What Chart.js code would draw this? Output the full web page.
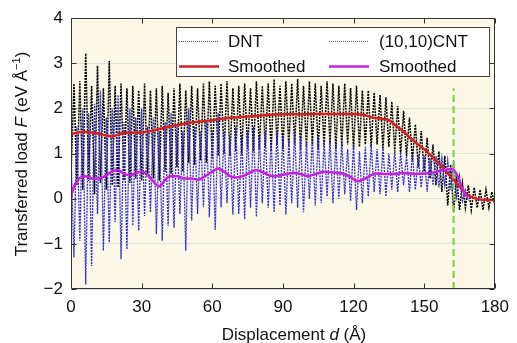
<!DOCTYPE html>
<html>
<head>
<meta charset="utf-8">
<script src="https://cdn.jsdelivr.net/npm/chart.js@4.4.1/dist/chart.umd.min.js"></script>
<style>
html,body{margin:0;padding:0;background:#ffffff;}
#wrap{width:517px;height:343px;position:relative;}
canvas{display:block;}
</style>
</head>
<body>
<div id="wrap"><canvas id="c" width="517" height="343"></canvas></div>
<script>
// ---- data ----
const seriesNames = ["DNT", "Smoothed", "(10,10)CNT", "Smoothed"];
const xTicks = [0, 30, 60, 90, 120, 150, 180];
const yTicks = [-2, -1, 0, 1, 2, 3, 4];

const dntX = [0,1.25,2.5,3.75,5,6.25,7.5,8.75,10,11.25,12.5,13.75,15,16.25,17.5,18.75,20,21.25,22.5,23.75,25,26.25,27.5,28.75,30,31.25,32.5,33.75,35,36.25,37.5,38.75,40,41.25,42.5,43.75,45,46.25,47.5,48.75,50,51.25,52.5,53.75,55,56.25,57.5,58.75,60,61.25,62.5,63.75,65,66.25,67.5,68.75,70,71.25,72.5,73.75,75,76.25,77.5,78.75,80,81.25,82.5,83.75,85,86.25,87.5,88.75,90,91.25,92.5,93.75,95,96.25,97.5,98.75,100,101.25,102.5,103.75,105,106.25,107.5,108.75,110,111.25,112.5,113.75,115,116.25,117.5,118.75,120,121.25,122.5,123.75,125,126.25,127.5,128.75,130,131.25,132.5,133.75,135,136.25,137.5,138.75,140,141.25,142.5,143.75,145,146.25,147.5,148.75,150,151.25,152.5,153.75,155,156.25,157.5,158.75,160,161.25,162.5,163.75,165,166.25,167.5,168.75,170,171.25,172.5,173.75,175,176.25,177.5,178.75,180];
const dntY = [0.5,2.55,0.3,2.6,0.2,3.22,0.4,2.5,0.1,2.95,0.35,2.45,0.2,3.05,0.3,2.5,0.25,2.55,0.4,2.45,0.35,2.5,0.45,2.4,0.4,2.55,0.5,2.4,0.45,2.45,0.4,2.5,0.6,2.35,0.55,2.45,0.7,2.55,0.6,2.4,0.8,2.5,0.75,2.45,0.85,2.55,0.8,2.6,0.9,2.5,0.95,2.55,1.0,2.6,0.95,2.45,1.05,2.5,1.0,2.55,1.1,2.45,1.05,2.6,1.1,2.5,1.15,2.55,1.05,2.65,1.2,2.5,1.1,2.6,1.15,2.55,1.2,2.65,1.1,2.5,1.15,2.6,1.2,2.55,1.1,2.5,1.15,2.6,1.2,2.55,1.1,2.5,1.15,2.55,1.2,2.45,1.1,2.5,1.15,2.4,1.2,2.4,1.15,2.35,1.2,2.3,1.1,2.25,1.15,2.15,1.05,2.05,1.0,1.95,0.95,1.8,0.85,1.65,0.7,1.5,0.6,1.35,0.45,1.2,0.3,1.05,0.15,0.95,-0.15,0.75,-0.3,0.5,-0.25,0.35,-0.2,0.3,-0.25,0.25,-0.2,0.2,-0.25,0.2,-0.2,0.15,-0.15];

const cntX = [0,1.25,2.5,3.75,5,6.25,7.5,8.75,10,11.25,12.5,13.75,15,16.25,17.5,18.75,20,21.25,22.5,23.75,25,26.25,27.5,28.75,30,31.25,32.5,33.75,35,36.25,37.5,38.75,40,41.25,42.5,43.75,45,46.25,47.5,48.75,50,51.25,52.5,53.75,55,56.25,57.5,58.75,60,61.25,62.5,63.75,65,66.25,67.5,68.75,70,71.25,72.5,73.75,75,76.25,77.5,78.75,80,81.25,82.5,83.75,85,86.25,87.5,88.75,90,91.25,92.5,93.75,95,96.25,97.5,98.75,100,101.25,102.5,103.75,105,106.25,107.5,108.75,110,111.25,112.5,113.75,115,116.25,117.5,118.75,120,121.25,122.5,123.75,125,126.25,127.5,128.75,130,131.25,132.5,133.75,135,136.25,137.5,138.75,140,141.25,142.5,143.75,145,146.25,147.5,148.75,150,151.25,152.5,153.75,155,156.25,157.5,158.75,160,161.25,162.5,163.75,165,166.25,167.5,168.75];
const cntY = [1.0,-1.3,1.6,-0.93,2.0,-1.9,1.9,-1.49,2.1,-0.34,2.4,-1.15,1.8,-0.97,2.0,-0.52,2.3,-1.34,1.7,-1.12,2.0,-0.6,1.8,-0.71,2.0,-0.38,1.6,-0.3,1.8,-0.78,1.5,-0.93,1.7,-0.6,1.9,-0.64,1.6,-0.34,1.5,-1.15,2.0,-0.49,1.6,-0.34,1.5,-0.19,1.7,-0.41,1.5,-0.69,1.9,-0.19,1.5,-0.1,1.4,-0.35,1.6,-0.34,1.4,-0.45,1.5,-0.2,1.6,-0.4,1.4,-0.1,1.5,-0.2,1.3,-0.3,1.5,-0.15,1.4,-0.35,1.3,-0.1,1.5,-0.2,1.35,-0.3,1.25,0.0,1.35,-0.15,1.4,-0.1,1.25,0.05,1.3,-0.1,1.2,0.0,1.25,0.1,1.1,-0.05,1.2,-0.25,1.05,-0.1,1.15,0.05,1.2,0.15,1.1,0.1,1.15,0.05,1.0,0.2,1.05,0.15,1.0,0.3,0.95,0.15,1.0,0.2,0.95,0.25,0.95,0.15,0.9,0.3,0.95,0.25,0.9,0.3,0.85,0.2,0.85,0.05,0.5,-0.05,0.2,-0.05];

const dntSmoothX = [0,3,6,9,12,15,17.5,20,23,26,30,34,38,42,46,50,55,60,65,70,75,80,85,90,95,100,105,110,115,120,124,128,132,135,138,141,144,147,150,153,156,159,162,165,168,171,174,177,180];
const dntSmoothY = [1.43,1.47,1.48,1.47,1.44,1.4,1.38,1.42,1.46,1.46,1.47,1.5,1.55,1.6,1.64,1.68,1.71,1.74,1.78,1.8,1.82,1.84,1.86,1.87,1.87,1.87,1.88,1.88,1.88,1.88,1.86,1.8,1.77,1.74,1.62,1.5,1.35,1.22,1.1,0.95,0.8,0.62,0.45,0.27,0.1,0.02,-0.02,-0.03,-0.03];

const cntSmoothX = [0,1.5,3.5,6,9,12,15,18,20,22.5,25,28,30.5,33,35.5,37.5,40,42,45,48,51,54,57,60,62.5,65,67.5,70,73,76,78.5,81,84,86.5,90,94.5,97.5,100.5,104,108,111,114.5,118,122,125,129.5,134,138,141,146,150.5,154,157.5,160,162,164,166,167.5,168.5];
const cntSmoothY = [0.05,0.3,0.45,0.5,0.45,0.45,0.52,0.62,0.63,0.55,0.52,0.58,0.6,0.5,0.35,0.27,0.42,0.5,0.5,0.45,0.45,0.42,0.5,0.6,0.67,0.6,0.5,0.47,0.5,0.58,0.63,0.6,0.52,0.5,0.53,0.57,0.55,0.5,0.55,0.6,0.58,0.57,0.5,0.39,0.45,0.56,0.55,0.55,0.57,0.55,0.56,0.58,0.63,0.65,0.66,0.52,0.25,0.1,0.02];

const markerX = [162.5, 162.5];
const markerY = [-2, 2.45];

// ---- helpers ----
const pts = (xs, ys) => xs.map((x, i) => ({x: x, y: ys[i]}));
const FONT = "'Liberation Sans', Arial, Helvetica, sans-serif";
const COL = {dnt:'#000000', cnt:'#2f2fd0', red:'#d61f1f', mag:'#c81fe0', green:'#7ccf3a'};

const decorPlugin = {
  id: 'decor',
  beforeDraw(chart) {
    const {ctx, chartArea: a} = chart;
    ctx.save();
    ctx.fillStyle = '#fbf8e8';
    ctx.fillRect(a.left, a.top, a.right - a.left, a.bottom - a.top);
    ctx.restore();
  },
  afterDraw(chart) {
    const {ctx, chartArea: a, scales} = chart;
    const xs = scales.x, ys = scales.y;
    ctx.save();
    // frame
    ctx.strokeStyle = '#333333';
    ctx.lineWidth = 1;
    const L = Math.round(a.left) + 0.5, R = Math.round(a.right) - 0.5;
    const T = Math.round(a.top) + 0.5, B = Math.round(a.bottom) - 0.5;
    ctx.beginPath();
    ctx.rect(L, T, R - L, B - T);
    ctx.stroke();
    // inward ticks
    const tl = 5;
    ctx.beginPath();
    xTicks.forEach(v => {
      const px = Math.round(xs.getPixelForValue(v)) + 0.5;
      ctx.moveTo(px, B); ctx.lineTo(px, B - tl);
      ctx.moveTo(px, T); ctx.lineTo(px, T + tl);
    });
    yTicks.forEach(v => {
      const py = Math.round(ys.getPixelForValue(v)) + 0.5;
      ctx.moveTo(L, py); ctx.lineTo(L + tl, py);
      ctx.moveTo(R, py); ctx.lineTo(R - tl, py);
    });
    ctx.stroke();

    // legend
    const lx = 176.5, ly = 27.5, lw = 313, lh = 49;
    ctx.fillStyle = '#ffffff';
    ctx.fillRect(lx, ly, lw, lh);
    ctx.strokeStyle = '#444444';
    ctx.lineWidth = 1;
    ctx.strokeRect(lx, ly, lw, lh);
    const rows = [
      {x0:179, x1:219, tx:228, y:41.5, col:'#555555', w:1, dash:[1,1], label:seriesNames[0]},
      {x0:179, x1:219, tx:228, y:66.5, col:COL.red, w:2.5, dash:[], label:seriesNames[1]},
      {x0:329, x1:369, tx:379, y:41.5, col:'#5c5ce0', w:1, dash:[1,1], label:seriesNames[2]},
      {x0:329, x1:369, tx:379, y:66.5, col:COL.mag, w:2.5, dash:[], label:seriesNames[3]}
    ];
    rows.forEach(r => {
      ctx.beginPath();
      ctx.setLineDash(r.dash);
      ctx.strokeStyle = r.col;
      ctx.lineWidth = r.w;
      ctx.moveTo(r.x0, r.y); ctx.lineTo(r.x1, r.y);
      ctx.stroke();
      ctx.setLineDash([]);
      ctx.fillStyle = '#111111';
      ctx.font = '17px ' + FONT;
      ctx.textBaseline = 'middle';
      ctx.textAlign = 'left';
      ctx.fillText(r.label, r.tx, r.y + 1);
    });

    // x title
    const xparts = [
      {t:'Displacement ', f:'17px ' + FONT, dy:0},
      {t:'d', f:'italic 17px ' + FONT, dy:0},
      {t:' (\u00C5)', f:'17px ' + FONT, dy:0}
    ];
    drawParts(ctx, xparts, 294, 340);

    // y title
    ctx.save();
    ctx.translate(27, 154);
    ctx.rotate(-Math.PI / 2);
    const yparts = [
      {t:'Transferred load ', f:'17px ' + FONT, dy:0},
      {t:'F', f:'italic 17px ' + FONT, dy:0},
      {t:' (eV \u00C5', f:'17px ' + FONT, dy:0},
      {t:'\u22121', f:'11px ' + FONT, dy:-7},
      {t:')', f:'17px ' + FONT, dy:0}
    ];
    drawParts(ctx, yparts, 0, 0);
    ctx.restore();
    ctx.restore();
  }
};

function drawParts(ctx, parts, cx, baseY) {
  let w = 0;
  parts.forEach(p => { ctx.font = p.f; w += ctx.measureText(p.t).width; });
  let x = cx - w / 2;
  ctx.fillStyle = '#111111';
  ctx.textBaseline = 'alphabetic';
  ctx.textAlign = 'left';
  parts.forEach(p => {
    ctx.font = p.f;
    ctx.fillText(p.t, x, baseY + p.dy);
    x += ctx.measureText(p.t).width;
  });
}

const cfg = {
  type: 'line',
  data: {
    datasets: [
      {label: 'marker', data: pts(markerX, markerY), borderColor: COL.green, borderWidth: 2, borderDash: [7,4], pointRadius: 0, order: 0, tension: 0},
      {label: seriesNames[3], data: pts(cntSmoothX, cntSmoothY), borderColor: COL.mag, borderWidth: 2.5, pointRadius: 0, order: 1, cubicInterpolationMode: 'monotone'},
      {label: seriesNames[1], data: pts(dntSmoothX, dntSmoothY), borderColor: COL.red, borderWidth: 2.5, pointRadius: 0, order: 2, cubicInterpolationMode: 'monotone'},
      {label: seriesNames[2], data: pts(cntX, cntY), borderColor: COL.cnt, borderWidth: 1.3, borderDash: [2,1], pointRadius: 0, order: 3, tension: 0},
      {label: seriesNames[0], data: pts(dntX, dntY), borderColor: COL.dnt, borderWidth: 1.5, borderDash: [2,1], pointRadius: 0, order: 4, tension: 0}
    ]
  },
  options: {
    responsive: false,
    animation: false,
    devicePixelRatio: 1,
    layout: {padding: {top: 18, right: 17, left: 0, bottom: 0}},
    plugins: {legend: {display: false}, tooltip: {enabled: false}},
    elements: {line: {fill: false}},
    scales: {
      x: {
        type: 'linear', min: 0, max: 180,
        afterBuildTicks: s => { s.ticks = xTicks.map(v => ({value: v})); },
        ticks: {font: {family: FONT, size: 17}, color: '#111111', padding: 8, maxRotation: 0, autoSkip: false},
        grid: {display: false, drawTicks: false},
        border: {display: false},
        afterFit: s => { s.height = 54; }
      },
      y: {
        type: 'linear', min: -2, max: 4,
        afterBuildTicks: s => { s.ticks = yTicks.map(v => ({value: v})); },
        ticks: {font: {family: FONT, size: 17}, color: '#111111', padding: 8, autoSkip: false,
          callback: v => String(v).replace('-', '\u2212')},
        grid: {color: '#e2e2dc', lineWidth: 1, drawTicks: false},
        border: {display: false},
        afterFit: s => { s.width = 71; }
      }
    }
  },
  plugins: [decorPlugin]
};
new Chart(document.getElementById('c'), cfg);
</script>
</body>
</html>
